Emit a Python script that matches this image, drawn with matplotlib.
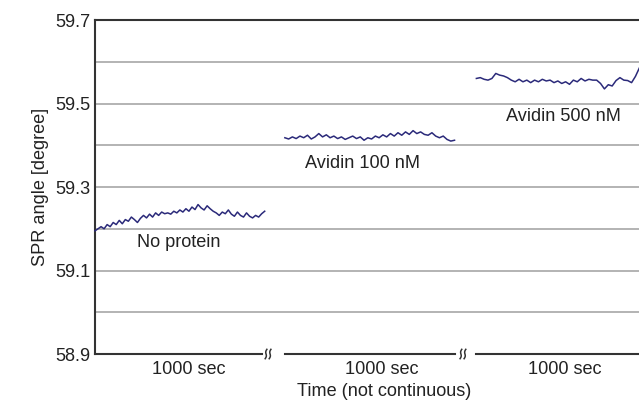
import numpy as np
import matplotlib
matplotlib.use("Agg")
import matplotlib.pyplot as plt
from matplotlib.ticker import FixedLocator

plt.rcParams['font.family'] = ['Liberation Sans', 'DejaVu Sans']

# SPR angle recordings, three separate 1000 s windows
no_protein = [59.195, 59.200, 59.205, 59.200, 59.210, 59.205, 59.215, 59.210, 59.220, 59.212,
              59.222, 59.218, 59.228, 59.222, 59.215, 59.225, 59.232, 59.226, 59.235, 59.228,
              59.238, 59.232, 59.240, 59.236, 59.238, 59.235, 59.242, 59.238, 59.245, 59.240,
              59.248, 59.242, 59.252, 59.246, 59.258, 59.250, 59.245, 59.255, 59.248, 59.242,
              59.238, 59.232, 59.240, 59.236, 59.245, 59.235, 59.230, 59.240, 59.232, 59.228,
              59.238, 59.230, 59.226, 59.232, 59.228, 59.236, 59.242]
avidin_100 = [59.418, 59.415, 59.420, 59.416, 59.422, 59.418, 59.424, 59.415, 59.420, 59.428,
              59.420, 59.425, 59.418, 59.422, 59.416, 59.420, 59.414, 59.418, 59.422, 59.416,
              59.420, 59.412, 59.418, 59.415, 59.422, 59.418, 59.425, 59.420, 59.428, 59.422,
              59.430, 59.424, 59.432, 59.426, 59.435, 59.428, 59.432, 59.426, 59.424, 59.430,
              59.422, 59.418, 59.422, 59.414, 59.410, 59.412]
avidin_500 = [59.560, 59.562, 59.558, 59.556, 59.560, 59.572, 59.568, 59.566, 59.562, 59.556,
              59.552, 59.558, 59.552, 59.556, 59.550, 59.556, 59.552, 59.558, 59.554, 59.556,
              59.550, 59.554, 59.548, 59.552, 59.546, 59.556, 59.552, 59.560, 59.554, 59.558,
              59.556, 59.556, 59.548, 59.535, 59.545, 59.542, 59.555, 59.562, 59.556, 59.555,
              59.550, 59.565, 59.585]

series_labels = ["No protein", "Avidin 100 nM", "Avidin 500 nM"]
window_label = "1000 sec"
y_ticks = [58.9, 59.1, 59.3, 59.5, 59.7]
y_grid = [59.0, 59.1, 59.2, 59.3, 59.4, 59.5, 59.6]

# each window is placed on a shared axis with a gap between them
window_start = [0, 1130, 2270]
window_span = [1010, 1010, 970]

FS = 13.1
TXT = "#222222"

fig = plt.figure(figsize=(6.39, 4.05), dpi=100)
ax = fig.add_axes([0.1487, 0.1259, 0.8513, 0.8247])

ax.set_xlim(0, 3238)
ax.set_ylim(58.9, 59.7)

line_color = "#2b2a7a"
for vals, t0, span in zip([no_protein, avidin_100, avidin_500], window_start, window_span):
    t = np.linspace(t0, t0 + span, len(vals))
    ax.plot(t, vals, color=line_color, lw=1.1, zorder=3, clip_on=False)

ax.yaxis.set_major_locator(FixedLocator(y_ticks))
ax.grid(False)
for g in y_grid:
    ax.axhline(g, color="#b3b3b3", lw=1.4, zorder=1)

ax.set_xticks([])
ax.tick_params(axis="y", which="both", length=0, pad=3, labelsize=FS, colors=TXT)
ax.set_yticklabels([f"{v:.1f}" for v in y_ticks])

for side in ["right", "bottom"]:
    ax.spines[side].set_visible(False)
for side in ["top", "left"]:
    ax.spines[side].set_color("#333333")
    ax.spines[side].set_linewidth(1.5)

# broken time axis
seg_ends = [(0, 994), (1131, 2143), (2268, 3238)]
trans = ax.get_xaxis_transform()
for a, b in seg_ends:
    ax.plot([a, b], [0, 0], color="#333333", lw=1.5, transform=trans, clip_on=False, zorder=4)

# small wavy break marks between the windows
s = np.linspace(0, 1, 20)
for bx in [1030, 2190]:
    for dx in (-12, 12):
        xs = bx + dx + 10 * (s - 0.5) + 4 * np.sin(2 * np.pi * s)
        ys = -0.014 + 0.028 * s
        ax.plot(xs, ys, color="#333333", lw=1.1, transform=trans, clip_on=False, zorder=4)

label_centers = [(0 + 994) / 2 + 60, (1131 + 2143) / 2 + 70, 2268 + 530]
for cx in label_centers:
    ax.text(cx, -0.022, window_label, transform=trans, ha="center", va="top",
            fontsize=FS, color=TXT)

ax.text(1720, -0.086, "Time (not continuous)", transform=trans, ha="center",
        va="top", fontsize=FS, color=TXT)
ax.set_ylabel("SPR angle [degree]", fontsize=FS, color=TXT, labelpad=5)

# series labels
ax.text(250, 59.168, series_labels[0], ha="left", va="center", fontsize=FS, color=TXT)
ax.text(1250, 59.357, series_labels[1], ha="left", va="center", fontsize=FS, color=TXT)
ax.text(2445, 59.470, series_labels[2], ha="left", va="center", fontsize=FS, color=TXT)

fig.savefig("out.png", dpi=100, facecolor="white")
